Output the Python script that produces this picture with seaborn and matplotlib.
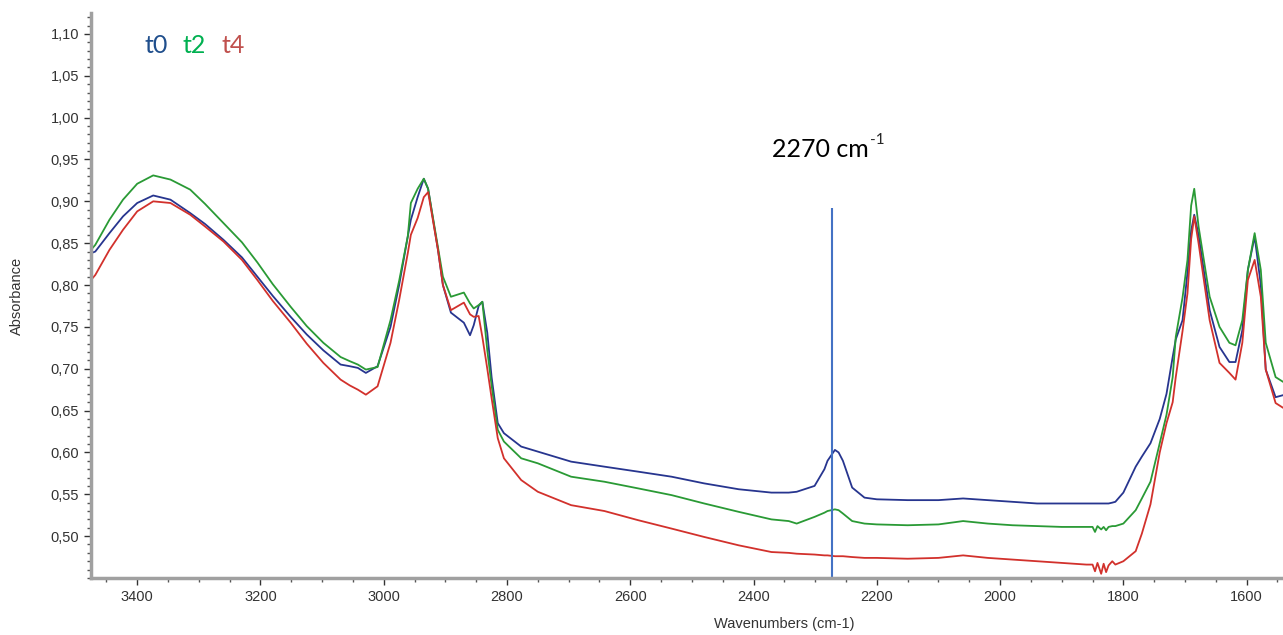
import numpy as np
import pandas as pd
import matplotlib
matplotlib.use('Agg')
import matplotlib.pyplot as plt
import seaborn as sns
from matplotlib.ticker import MultipleLocator, FuncFormatter

# wavenumbers (cm-1), shared by the three spectra
wavenumber = [3475, 3468, 3445, 3423, 3400, 3374, 3346, 3314, 3290, 3260,
              3230, 3205, 3180, 3151, 3125, 3098, 3070, 3055, 3042, 3029,
              3010, 2989, 2975, 2961, 2956, 2945, 2935, 2928, 2912, 2904,
              2891, 2870, 2860, 2854, 2846, 2840, 2832, 2825, 2815, 2805,
              2777, 2750, 2696, 2642, 2587, 2533, 2480, 2424, 2371, 2343,
              2330, 2301, 2285, 2280, 2268, 2262, 2255, 2240, 2220, 2200,
              2150, 2100, 2060, 2020, 1980, 1940, 1900, 1860, 1850, 1846,
              1842, 1836, 1832, 1828, 1824, 1818, 1813, 1800, 1780, 1770,
              1756, 1741, 1730, 1720, 1715, 1704, 1696, 1690, 1685, 1678,
              1660, 1644, 1628, 1618, 1607, 1598, 1587, 1577, 1569, 1553,
              1538]

t0 = [0.838, 0.840, 0.862, 0.882, 0.898, 0.907, 0.902, 0.886, 0.873, 0.854,
      0.833, 0.810, 0.787, 0.762, 0.741, 0.722, 0.705, 0.703, 0.701, 0.695,
      0.703, 0.750, 0.800, 0.858, 0.878, 0.905, 0.927, 0.915, 0.842, 0.800,
      0.767, 0.755, 0.740, 0.752, 0.775, 0.780, 0.743, 0.690, 0.635, 0.623,
      0.607, 0.601, 0.589, 0.583, 0.577, 0.571, 0.563, 0.556, 0.552, 0.552,
      0.553, 0.560, 0.580, 0.590, 0.603, 0.600, 0.590, 0.558, 0.546, 0.544,
      0.543, 0.543, 0.545, 0.543, 0.541, 0.539, 0.539, 0.539, 0.539, 0.539,
      0.539, 0.539, 0.539, 0.539, 0.539, 0.540, 0.541, 0.552, 0.583, 0.595,
      0.611, 0.640, 0.670, 0.714, 0.735, 0.758, 0.815, 0.865, 0.884, 0.860,
      0.770, 0.726, 0.708, 0.708, 0.746, 0.818, 0.858, 0.800, 0.699, 0.666,
      0.669]

t2 = [0.842, 0.848, 0.878, 0.902, 0.921, 0.931, 0.926, 0.914, 0.897, 0.874,
      0.851, 0.827, 0.801, 0.774, 0.751, 0.731, 0.714, 0.709, 0.705, 0.699,
      0.702, 0.758, 0.805, 0.858, 0.898, 0.915, 0.927, 0.915, 0.845, 0.810,
      0.786, 0.791, 0.778, 0.772, 0.776, 0.780, 0.722, 0.680, 0.627, 0.613,
      0.593, 0.587, 0.571, 0.565, 0.557, 0.549, 0.539, 0.529, 0.520, 0.518,
      0.515, 0.523, 0.528, 0.530, 0.532, 0.531, 0.527, 0.518, 0.515, 0.514,
      0.513, 0.514, 0.518, 0.515, 0.513, 0.512, 0.511, 0.511, 0.511, 0.505,
      0.512, 0.508, 0.511, 0.507, 0.511, 0.512, 0.512, 0.515, 0.531, 0.545,
      0.565, 0.611, 0.645, 0.690, 0.738, 0.785, 0.830, 0.895, 0.915, 0.870,
      0.786, 0.750, 0.731, 0.728, 0.758, 0.818, 0.862, 0.818, 0.731, 0.690,
      0.683]

t4 = [0.806, 0.812, 0.842, 0.866, 0.888, 0.900, 0.898, 0.884, 0.870, 0.852,
      0.830, 0.806, 0.781, 0.755, 0.730, 0.707, 0.687, 0.680, 0.675, 0.669,
      0.679, 0.731, 0.782, 0.838, 0.860, 0.880, 0.905, 0.911, 0.842, 0.800,
      0.770, 0.779, 0.765, 0.762, 0.763, 0.738, 0.700, 0.665, 0.617, 0.593,
      0.567, 0.553, 0.537, 0.530, 0.519, 0.509, 0.499, 0.489, 0.481, 0.480,
      0.479, 0.478, 0.477, 0.477, 0.476, 0.476, 0.476, 0.475, 0.474, 0.474,
      0.473, 0.474, 0.477, 0.474, 0.472, 0.470, 0.468, 0.466, 0.466, 0.458,
      0.468, 0.455, 0.467, 0.457, 0.465, 0.470, 0.466, 0.470, 0.482, 0.503,
      0.538, 0.600, 0.635, 0.660, 0.690, 0.745, 0.790, 0.855, 0.882, 0.850,
      0.758, 0.707, 0.695, 0.687, 0.731, 0.806, 0.830, 0.786, 0.699, 0.659,
      0.652]

samples = ['t0', 't2', 't4']
line_colors = ['#27358f', '#2a9a35', '#d2312c']
text_colors = ['#1f4e8c', '#00b050', '#c0504d']
marker_wn = 2273
marker_top = 0.892

df = pd.DataFrame({
    'wn': wavenumber * 3,
    'absorbance': t0 + t2 + t4,
    'sample': ['t0'] * len(t0) + ['t2'] * len(t2) + ['t4'] * len(t4),
})

sns.set_style('ticks')
plt.rcParams['font.family'] = ['Liberation Sans', 'DejaVu Sans']

fig = plt.figure(figsize=(12.83, 6.35), dpi=100)
ax = fig.add_axes([0.0709, 0.0898, 0.9291, 0.8897])

sns.lineplot(data=df, x='wn', y='absorbance', hue='sample', hue_order=samples,
             palette=line_colors, estimator=None, legend=False, lw=1.3, ax=ax)

ax.vlines(marker_wn, 0.45, marker_top, color='#4472c4', lw=1.5)

ax.set_xlim(3475, 1541)
ax.set_ylim(0.45, 1.125)
ax.xaxis.set_major_locator(MultipleLocator(200))
ax.xaxis.set_minor_locator(MultipleLocator(50))
ax.yaxis.set_major_locator(MultipleLocator(0.05))
ax.yaxis.set_minor_locator(MultipleLocator(0.01))
ax.yaxis.set_major_formatter(FuncFormatter(lambda v, p: f'{v:.2f}'.replace('.', ',')))
ax.set_yticks(np.arange(0.50, 1.101, 0.05))

sns.despine(ax=ax)
for s in ['left', 'bottom']:
    ax.spines[s].set_color('#a0a0a0')
    ax.spines[s].set_linewidth(2.5)
ax.tick_params(which='major', length=5, width=1, color='#333333',
               labelsize=10.5, labelcolor='#333333')
ax.tick_params(which='minor', length=3, width=1, color='#555555')

ax.set_xlabel('Wavenumbers (cm-1)', fontsize=10.5, color='#333333')
ax.set_ylabel('Absorbance', fontsize=10.5, color='#333333')
ax.xaxis.set_label_coords(0.582, -0.069)
ax.yaxis.set_label_coords(-0.056, 0.5)

# sample names in the top left corner
lx = [0.0453, 0.0772, 0.1091]
for name, c, x in zip(samples, text_colors, lx):
    ax.text(x, 0.929, name, transform=ax.transAxes, color=c, fontsize=18,
            family=['Lato', 'DejaVu Sans'], va='baseline', ha='left')

lab = ax.text(0.571, 0.745, '2270 cm', transform=ax.transAxes, color='black',
              fontsize=18, family=['Lato', 'DejaVu Sans'], va='baseline', ha='left')
ax.annotate('-1', xy=(1.0, 0.62), xycoords=lab, xytext=(1, 0), textcoords='offset points',
            fontsize=11, family=['Lato', 'DejaVu Sans'], va='bottom', ha='left')

fig.savefig('out.png', dpi=100)
